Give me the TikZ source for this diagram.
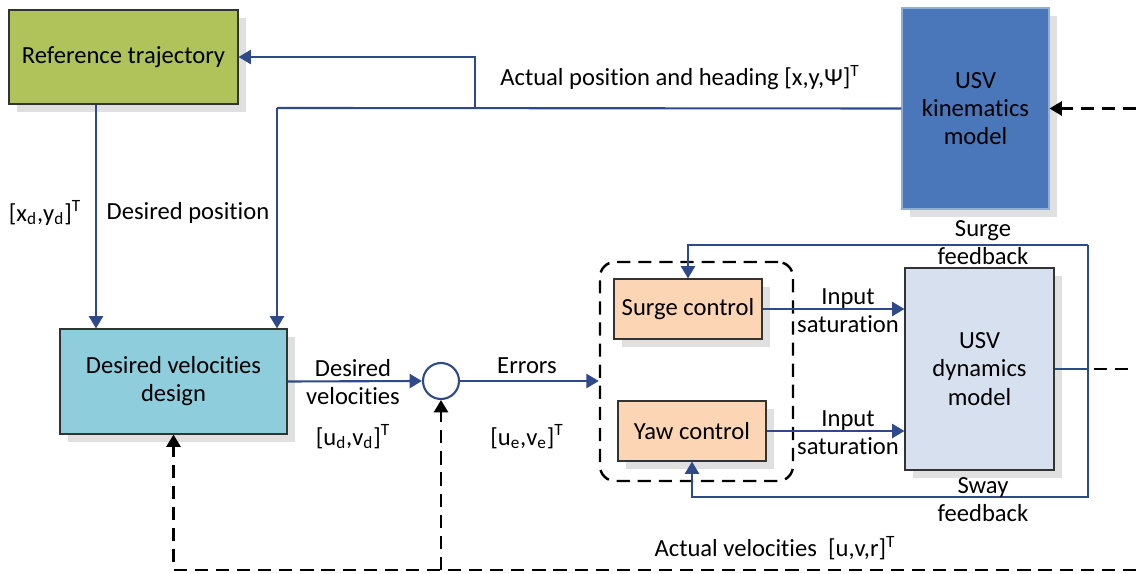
\documentclass[tikz,border=0pt]{standalone}
\usepackage{fontspec}
\setmainfont[RawFeature={-liga;-dlig;-clig;-calt}]{Carlito}
\usepackage{xcolor}
\usepackage{tikz}
\usetikzlibrary{positioning,arrows.meta,shadows,calc}
\definecolor{refgreen}{HTML}{AFC35A}
\definecolor{kinblue}{HTML}{4A76BA}
\definecolor{desgcyan}{HTML}{8ECDDC}
\definecolor{ctrlpeach}{HTML}{FCD5B5}
\definecolor{dynblue}{HTML}{D7E0EF}
\definecolor{flowblue}{HTML}{2F4A8A}

\begin{document}
\begin{tikzpicture}[font=\fontsize{14}{16}\selectfont,
    blk/.style={draw=black!80,line width=0.6pt,align=center,inner sep=0pt,
      drop shadow={shadow xshift=0.16cm,shadow yshift=-0.16cm,fill=black!12,opacity=1}},
    flow/.style={flowblue,line width=1.2pt,-{Triangle[width=8pt,length=7pt]}},
    sig/.style={black,line width=1.4pt,dash pattern=on 7.5pt off 4.5pt,-{Triangle[width=8pt,length=7pt]}},
    lbl/.style={align=center,inner sep=1pt}]
  \useasboundingbox (0,0) rectangle (22.72,11.46);

  % blocks
  \node[blk,fill=refgreen,minimum width=4.58cm,minimum height=1.88cm] (ref) at (2.47,10.32) {Reference trajectory};
  \node[blk,fill=kinblue,draw=kinblue!60!white,minimum width=2.94cm,minimum height=4.02cm] (kin) at (19.51,9.29) {USV\\kinematics\\model};
  \node[blk,fill=desgcyan,minimum width=4.54cm,minimum height=2.10cm] (desg) at (3.47,3.83) {Desired velocities\\design};
  \node[draw=flowblue,line width=1.2pt,circle,minimum size=0.72cm] (sum) at (8.82,3.84) {};
  \node[draw=black,line width=1.4pt,dash pattern=on 7.5pt off 4.5pt,rounded corners=0.3cm,
    minimum width=3.86cm,minimum height=4.38cm] (ctrl) at (13.93,4.03) {};
  \node[blk,fill=ctrlpeach,minimum width=2.96cm,minimum height=1.2cm] (surge) at (13.76,5.28) {Surge control};
  \node[blk,fill=ctrlpeach,minimum width=2.96cm,minimum height=1.2cm] (yaw) at (13.84,2.84) {Yaw control};
  \node[blk,fill=dynblue,minimum width=2.98cm,minimum height=4.04cm] (dyn) at (19.59,4.08) {USV\\dynamics\\model};

  % turning points
  \coordinate (split) at (9.5,9.30);
  \coordinate (turn) at (5.54,9.30);
  \coordinate (fbtop) at (21.76,6.56);
  \coordinate (fbbot) at (21.76,1.52);
  \coordinate (fbout) at (21.76,4.08);
  \coordinate (outR) at (22.72,4.08);
  \coordinate (kinR) at (22.72,9.29);
  \coordinate (botR) at (22.72,0.06);
  \coordinate (botL) at (3.47,0.06);

  % position loop
  \draw[flow,-] (kin.west) -- (turn);
  \draw[flow] (turn) -- (turn |- desg.north);
  \draw[flow] (split) |- (ref.east);
  \draw[flow] (ref.south -| 1.92,0) -- (desg.north -| 1.92,0);
  \draw[sig] (kinR) -- (kin.east);

  % velocity loop
  \draw[flow] (desg.east) -- (sum.west);
  \draw[flow] (sum.east) -- (sum.east -| ctrl.west);
  \draw[flow] (surge.east) -- (surge.east -| dyn.west);
  \draw[flow] (yaw.east) -- (yaw.east -| dyn.west);
  \draw[flow,-] (dyn.east) -- (fbout);
  \draw[flow] (fbtop) -| (surge.north);
  \draw[flow] (fbtop) -- (fbbot) -| (yaw.south);
  \draw[sig,-] ($(fbout)+(0.12,0)$) -- (outR);
  \draw[sig] (botR) -- (botL) -- (desg.south);
  \draw[sig] (sum.south |- botL) -- (sum.south);

  % labels
  \node[lbl] (lpos) at (13.6,9.9) {Actual position and heading [x,y,Ψ]\textsuperscript{T}};
  \node[lbl] (lxd) at (0.9,7.2) {[x\textsubscript{d},y\textsubscript{d}]\textsuperscript{T}};
  \node[lbl] (ldpos) at (3.76,7.2) {Desired position};
  \node[lbl] (ldvel) at (7.06,3.82) {Desired\\velocities};
  \node[lbl] (lud) at (7.06,2.72) {[u\textsubscript{d},v\textsubscript{d}]\textsuperscript{T}};
  \node[lbl] (lerr) at (10.54,4.14) {Errors};
  \node[lbl] (lue) at (10.54,2.72) {[u\textsubscript{e},v\textsubscript{e}]\textsuperscript{T}};
  \node[lbl] (lsat1) at (16.96,5.24) {Input\\saturation};
  \node[lbl] (lsat2) at (16.96,2.80) {Input\\saturation};
  \node[lbl] (lsurge) at (19.66,6.60) {Surge\\feedback};
  \node[lbl] (lsway) at (19.66,1.46) {Sway\\feedback};
  \node[lbl] (lact) at (15.5,0.5) {Actual velocities~~[u,v,r]\textsuperscript{T}};
\end{tikzpicture}
\end{document}
